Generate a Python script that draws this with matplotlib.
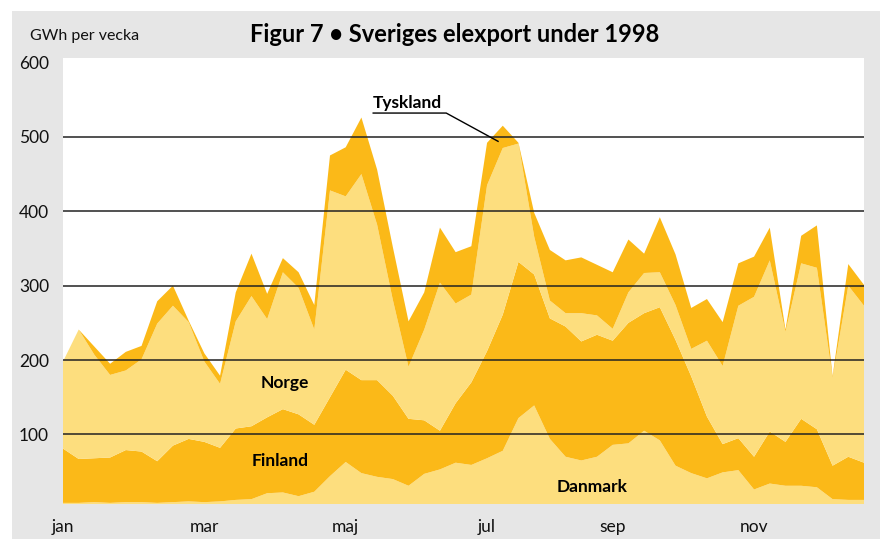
import numpy as np
import matplotlib
matplotlib.use("Agg")
import matplotlib.pyplot as plt
from matplotlib.patches import Rectangle

plt.rcParams['font.family'] = ['Lato', 'DejaVu Sans']

# ---- data: GWh per vecka, vecka 1..52 ----
weeks = np.arange(52)
danmark = [8, 8, 9, 8, 9, 9, 8, 9, 10, 9, 10, 12, 13, 21, 22, 17, 23, 44, 63, 48,
           43, 40, 31, 47, 53, 62, 59, 68, 78, 122, 139, 94, 70, 65, 70, 86, 88, 105, 92, 58,
           48, 41, 49, 52, 26, 34, 31, 31, 29, 13, 12, 12]
finland = [73, 59, 59, 61, 70, 68, 56, 76, 84, 81, 72, 96, 98, 102, 112, 110, 90, 106, 124, 125,
           130, 112, 90, 72, 52, 80, 111, 144, 183, 210, 176, 162, 175, 160, 164, 140, 162, 158, 179, 169,
           130, 83, 38, 43, 44, 70, 59, 90, 78, 45, 58, 50]
norge = [117, 174, 139, 111, 107, 124, 185, 188, 157, 108, 86, 144, 175, 132, 184, 170, 128, 278, 233, 277,
         209, 129, 70, 122, 199, 134, 118, 223, 224, 159, 51, 24, 18, 38, 26, 16, 41, 54, 47, 47,
         37, 102, 105, 178, 215, 230, 148, 209, 217, 118, 230, 211]
tyskland = [0, 0, 11, 15, 25, 18, 30, 27, 2, 11, 11, 39, 57, 34, 19, 21, 33, 47, 66, 76,
            74, 71, 61, 50, 74, 69, 65, 57, 30, 1, 32, 68, 71, 75, 68, 76, 71, 26, 74, 68,
            55, 56, 59, 57, 54, 44, 3, 37, 57, 2, 29, 28]

month_pos = [0, 9, 18, 27, 35, 44]
month_labels = ['jan', 'mar', 'maj', 'jul', 'sep', 'nov']
yticks = [100, 200, 300, 400, 500, 600]

LIGHT = '#fdde7e'
DARK = '#fbb918'
GRAY = '#e6e6e6'

fig = plt.figure(figsize=(8.8, 5.39), dpi=100)
fig.patch.set_facecolor('white')
# grå bakgrundspanel
fig.patches.append(Rectangle((12 / 880, 0), 1, 1 - 11 / 539, transform=fig.transFigure,
                             facecolor=GRAY, edgecolor='none', zorder=-10))

ax = fig.add_axes([63 / 880, 1 - 504 / 539, (864 - 63) / 880, (504 - 58) / 539])
ax.set_facecolor('white')
ax.stackplot(weeks, danmark, finland, norge, tyskland,
             colors=[LIGHT, DARK, LIGHT, DARK], linewidth=0, zorder=1)

for v in yticks[:-1]:
    ax.axhline(v, color='#222222', lw=1.1, zorder=3)

ax.set_xlim(0, 51)
ax.set_ylim(6.5, 606)
for s in ax.spines.values():
    s.set_visible(False)
ax.set_yticks(yticks)
ax.set_yticklabels([str(v) for v in yticks], fontsize=12.5, color='#111111')
ax.set_xticks(month_pos)
ax.set_xticklabels(month_labels, fontsize=12.5, color='#111111')
ax.tick_params(axis='both', length=0)
ax.tick_params(axis='x', pad=11)
ax.tick_params(axis='y', pad=10)

# etiketter
lab = dict(fontsize=12.5, fontweight='bold', color='black', zorder=5)
ax.text(14.1, 169, 'Norge', ha='center', va='center', **lab)
ax.text(13.8, 64, 'Finland', ha='center', va='center', **lab)
ax.text(33.7, 30, 'Danmark', ha='center', va='center', **lab)
ax.text(19.75, 546, 'Tyskland', ha='left', va='center', **lab)
ax.plot([19.75, 24.4, 27.7], [532, 532, 494], color='black', lw=1, zorder=5, clip_on=False)

fig.text(455 / 880, 1 - 35 / 539, 'Figur 7 \u2022 Sveriges elexport under 1998',
         ha='center', va='center', fontsize=17, fontweight='bold', color='black')
fig.text(30 / 880, 1 - 36 / 539, 'GWh per vecka', ha='left', va='center',
         fontsize=11.5, color='#111111')

fig.savefig('out.png', dpi=100)
